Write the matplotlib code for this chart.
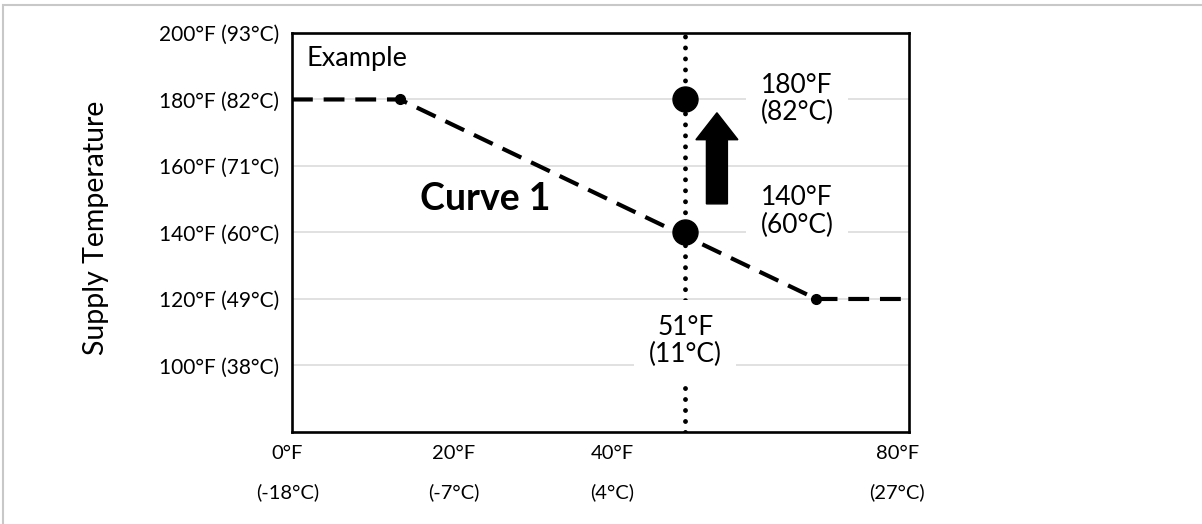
import numpy as np
import matplotlib.pyplot as plt
from matplotlib.patches import Rectangle

# data
curve_x = [0, 14, 68, 80]
curve_y = [180, 180, 120, 120]
knee_x = [14, 68]
knee_y = [180, 120]
point_x = [51, 51]
point_y = [180, 140]
outdoor_x = 51

yticks = [100, 120, 140, 160, 180, 200]
ytick_labels = ['100°F (38°C)', '120°F (49°C)', '140°F (60°C)',
                '160°F (71°C)', '180°F (82°C)', '200°F (93°C)']
xticks_f = ['0°F', '20°F', '40°F', '80°F']
xticks_c = ['(-18°C)', '(-7°C)', '(4°C)', '(27°C)']
xtick_pos = [-0.6, 21, 41.5, 78.5]

plt.rcParams['font.family'] = ['Lato', 'DejaVu Sans']

fig = plt.figure(figsize=(12.02, 5.24), dpi=100)
ax = fig.add_axes([0.2429, 0.1756, 0.5133, 0.7615])

# figure border (only top/left visible in the crop)
fig.patches.append(Rectangle((3, -100), 1300, 619, transform=None, fill=False,
                             edgecolor='#c8c8c8', linewidth=1.5))

ax.set_xlim(0, 80)
ax.set_ylim(80, 200)

# grid
for y in yticks[:-1]:
    ax.axhline(y, color='#d9d9d9', linewidth=1.1, zorder=1)

ax.set_yticks(yticks)
ax.set_yticklabels(ytick_labels, fontsize=15)
ax.tick_params(axis='y', length=0, pad=9)
ax.set_xticks([])
for s in ax.spines.values():
    s.set_linewidth(1.9)

trans = ax.get_xaxis_transform()
for p, f, c in zip(xtick_pos, xticks_f, xticks_c):
    ax.text(p, -0.055, f, transform=trans, ha='center', va='center', fontsize=14.5)
    ax.text(p, -0.150, c, transform=trans, ha='center', va='center', fontsize=14.5)

fig.text(96 / 1202, 1 - 228 / 524, 'Supply Temperature', rotation=90,
         ha='center', va='center', fontsize=20.5)

# dotted vertical line
ax.axvline(outdoor_x, color='black', linewidth=3.5, linestyle=(0, (0.01, 2.25)),
           dash_capstyle='round', zorder=2)

# curve
ax.plot(curve_x, curve_y, color='black', linewidth=3, dashes=(5, 2.6), zorder=3)
ax.plot(knee_x, knee_y, 'o', color='black', markersize=7, zorder=4)
ax.plot(point_x, point_y, 'o', color='black', markersize=18, zorder=5)

# arrow
ax.arrow(55.1, 148.6, 0, 19.3, width=2.72, head_width=5.45, head_length=8.1,
         length_includes_head=False, color='black', zorder=5)

lab = dict(ha='center', va='center', fontsize=19, linespacing=1.1, zorder=6,
           bbox=dict(boxstyle='square,pad=0.55', facecolor='white', edgecolor='none'))
ax.text(65.5, 180.2, '180°F\n(82°C)', **lab)
ax.text(65.5, 146.3, '140°F\n(60°C)', **lab)
ax.text(outdoor_x, 107.4, '51°F\n(11°C)', **lab)

ax.text(0.024, 0.935, 'Example', transform=ax.transAxes, ha='left', va='center',
        fontsize=19.5)
ax.text(25, 150.1, 'Curve 1', ha='center', va='center', fontsize=27,
        fontweight='bold')

fig.savefig('out.png', dpi=100)
